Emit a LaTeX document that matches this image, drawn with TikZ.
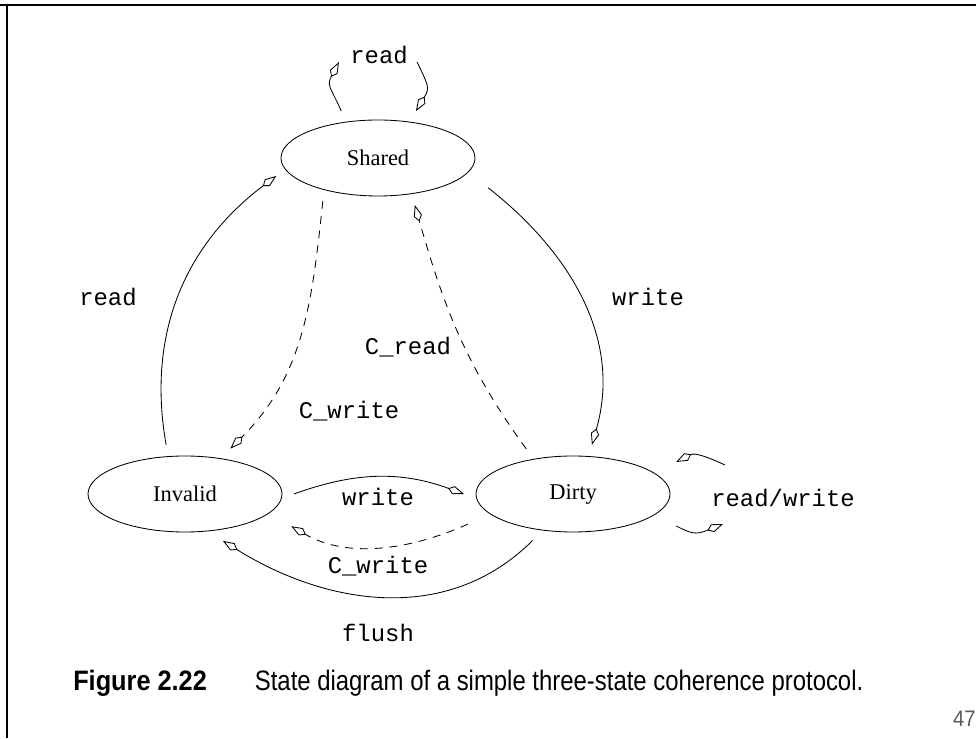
\documentclass[tikz,border=0pt]{standalone}
\usepackage{fontspec}
\setmainfont{Liberation Serif}
\setmonofont{Liberation Mono}
\newfontfamily\captionfont[FakeStretch=0.9]{Liberation Sans}
\newfontfamily\captiontext[FakeStretch=0.85]{Liberation Sans}
\usetikzlibrary{arrows.meta,positioning,shapes.geometric}
\usepackage{xcolor}
\definecolor{pagegray}{RGB}{90, 90, 90}

\tikzset{
    state/.style={
        ellipse,
        draw,
        line width=0.6pt,
        minimum width=4.85cm,
        minimum height=1.9cm,
        inner sep=0pt,
        outer sep=0.3cm,
        font=\fontsize{16}{19}\selectfont
    },
    msg/.style={font=\ttfamily\fontsize{17}{20}\selectfont},
    trans/.style={
        -{Kite[open, length=0.42cm, width=0.21cm, inset=0.14cm]},
        line width=0.6pt
    },
    ctrans/.style={trans, dash pattern=on 0.2cm off 0.17cm}
}

\begin{document}
\begin{tikzpicture}[node distance=1cm, auto]

        \useasboundingbox (0,0) rectangle (24.4,18.45);
        \draw[line width=1pt] (0,18.325) -- (24.4,18.325);
        \draw[line width=1pt] (0.175,18.325) -- (0.175,0);

        \node (2) [state] at (4.625,6.1) {Invalid};
        \node (3) [state, right=4.25cm of 2] {Dirty};
        \node (1) [state] at (9.45,14.5) {Shared};

        \node (4) [msg] at (9.475,17.075) {read};
        \node (5) [msg] at (2.7,11.025) {read};
        \node (6) [msg] at (16.2,11.025) {write};
        \node (7) [msg] at (10.2,9.775) {C\_read};
        \node (8) [msg] at (8.725,8.175) {C\_write};
        \node (9) [msg] at (9.45,6.025) {write};
        \node (10) [msg] at (9.45,4.3) {C\_write};
        \node (11) [msg] at (9.45,2.625) {flush};
        \node (12) [msg] at (19.575,6.0) {read/write};

        \node (13) [
            anchor=base west,
            inner sep=0pt,
            font=\fontsize{20}{24}\selectfont
        ] at (1.825,1.2)
        {{\captionfont\bfseries Figure 2.22}\hspace{1.2cm}{\captiontext State diagram of a simple three-state coherence protocol.}};
        \node (14) [
            anchor=base east,
            inner sep=0pt,
            text=pagegray,
            font=\captionfont\fontsize{16}{18}\selectfont
        ] at (24.4,0.3) {47};

        \coordinate (15) at (8.475,16.9);
        \coordinate (16) at (10.425,16.9);
        \coordinate (17) at (18.125,6.825);
        \coordinate (18) at (18.075,5.35);

        \draw[trans, out=114, in=242, looseness=1.4] (1.128) to (15);
        \draw[trans, out=-64, in=59, looseness=1.4] (16) to (1.51);
        \draw[trans, out=100, in=217] (2.111) to (1.190);
        \draw[trans, out=-38, in=74, shorten <=0.35cm] (1.-12) to (3.69);
        \draw[ctrans, out=264, in=45] (1.218) to (2.45);
        \draw[ctrans, out=126, in=-74] (3.136) to (1.-52);
        \draw[trans, out=20, in=160] (2.0) to (3.180);
        \draw[ctrans, out=204, in=-30, shorten <=0.3cm, shorten >=0.35cm] (3.195) to (2.-15);
        \draw[trans, out=225, in=-32] (3.229) to (2.-51);
        \draw[trans, out=155, in=27, looseness=1.3, shorten >=0.3cm] (17) to (3.16);
        \draw[trans, out=-27, in=202, looseness=1.3, shorten <=0.3cm] (3.-16) to (18);
    \end{tikzpicture}
\end{document}
